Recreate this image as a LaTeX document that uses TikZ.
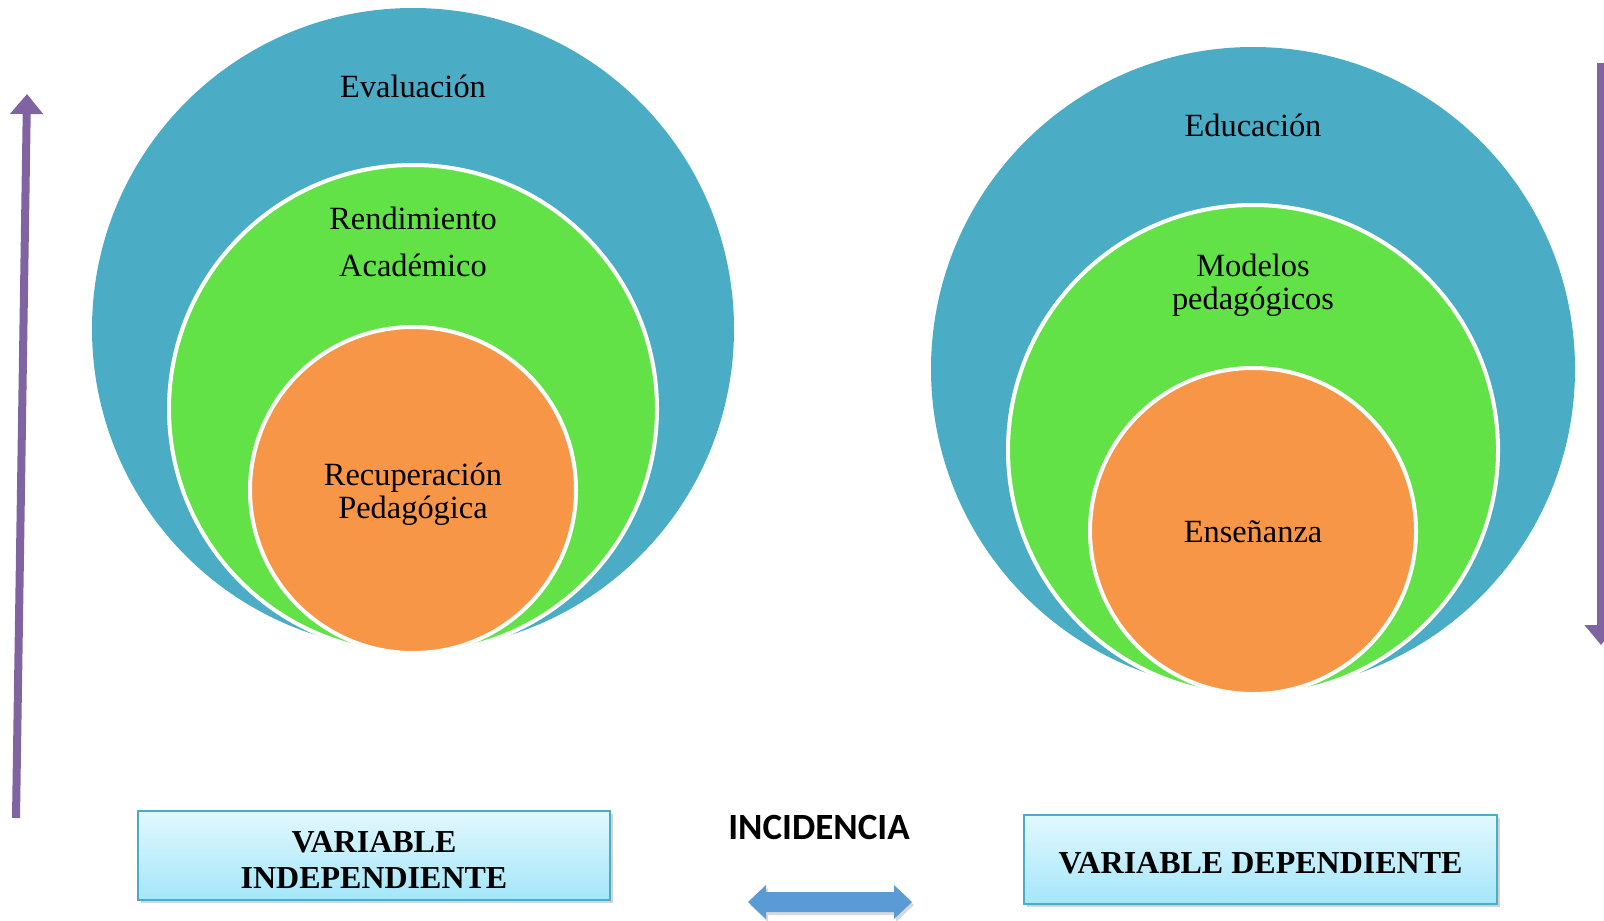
\documentclass[tikz,border=0pt]{standalone}
\usepackage{fontspec}
\setmainfont{Liberation Serif}
\newfontfamily\calib{Carlito}
\usetikzlibrary{arrows.meta,shadows,calc}
\definecolor{cblue}{HTML}{4BACC6}
\definecolor{cgreen}{HTML}{62E247}
\definecolor{corange}{HTML}{F79646}
\definecolor{cpurple}{HTML}{8064A2}
\definecolor{carrow}{HTML}{5B9BD5}
\definecolor{boxtop}{HTML}{E2F8FE}
\definecolor{boxbot}{HTML}{A4E6FA}
\tikzset{
  disc/.style={circle, inner sep=0pt, outer sep=0pt},
  bluedisc/.style={disc, fill=cblue},
  greendisc/.style={disc, fill=cgreen, draw=white, line width=2pt},
  orangedisc/.style={disc, fill=corange, draw=white, line width=2pt},
  lbl/.style={font=\fontsize{16.2}{16.5}\selectfont, align=center, inner sep=0pt},
  varbox/.style={draw=cblue, line width=1pt, top color=boxtop, bottom color=boxbot,
     drop shadow={shadow xshift=1.5pt, shadow yshift=-1.5pt, opacity=0.35},
     font=\fontsize{16}{18}\selectfont\bfseries, align=center, inner sep=0pt},
  purplearrow/.style={draw=cpurple, line width=4pt, -{Triangle[width=16pt,length=10pt]}},
}
\begin{document}
\begin{tikzpicture}[x=0.5pt,y=-0.5pt]
\useasboundingbox (0,0) rectangle (1604,920);
% left circles
\node[bluedisc, minimum size=321pt] (lb) at (413,329) {};
\node[greendisc, minimum size=244pt] (lg) at (413,409) {};
\node[orangedisc, minimum size=163pt] (lo) at (413,490) {};
\node[lbl] (t1) at (413,86) {Evaluación};
\node[lbl] (t2) at (413,218) {Rendimiento};
\node[lbl] (t3) at (413,265) {Académico};
\node[lbl] (t4) at (413,494) {Recuperación\\Pedagógica};
% right circles
\node[bluedisc, minimum size=322pt] (rb) at (1253,369) {};
\node[greendisc, minimum size=245pt] (rg) at (1253,450) {};
\node[orangedisc, minimum size=163pt] (ro) at (1253,531) {};
\node[lbl] (u1) at (1253,125) {Educación};
\node[lbl] (u2) at (1253,285) {Modelos\\pedagógicos};
\node[lbl] (u3) at (1253,532) {Enseñanza};
% boxes
\node[varbox, minimum width=236pt, minimum height=44.5pt] (vi) at (374,855.5) {};
\node[font=\fontsize{16}{18}\selectfont\bfseries, align=center, inner sep=0pt] (vit) at (374,860) {VARIABLE\\INDEPENDIENTE};
\node[varbox, minimum width=236.5pt, minimum height=44.5pt] (vd) at (1260.5,859.5) {};
\node[font=\fontsize{16}{18}\selectfont\bfseries, inner sep=0pt] (vdt) at (1260.5,863) {VARIABLE DEPENDIENTE};
% incidencia
\node[font=\calib\bfseries\fontsize{18.5}{20}\selectfont, inner sep=0pt] (inc) at (819,827) {INCIDENCIA};
\coordinate (da) at (830,902);
\fill[carrow, drop shadow={shadow xshift=1pt, shadow yshift=-1.5pt, opacity=0.3}]
  ($(da)+(-82,0)$) -- ++(18,-17) -- ++(0,7) -- ++(128,0) -- ++(0,-7) -- ++(18,17)
  -- ++(-18,17) -- ++(0,-7) -- ++(-128,0) -- ++(0,7) -- cycle;
% purple arrows
\coordinate (la1) at (16,818);
\coordinate (la2) at (27,94);
\draw[purplearrow] (la1) -- (la2);
\coordinate (ra1) at (1601,63);
\coordinate (ra2) at (1601,645);
\draw[purplearrow] (ra1) -- (ra2);
\end{tikzpicture}
\end{document}
